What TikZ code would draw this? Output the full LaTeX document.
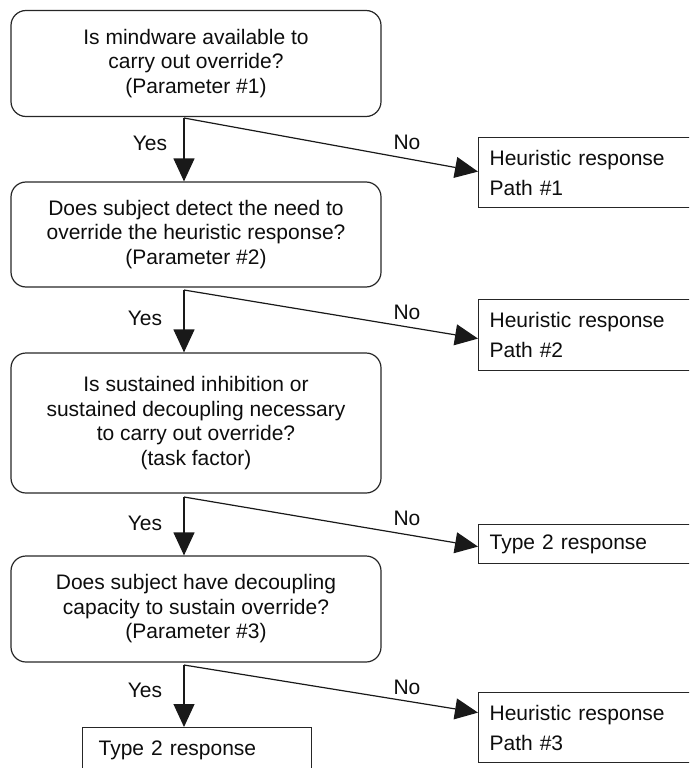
\documentclass[tikz,border=0pt]{standalone}
\usepackage{fontspec}
\setmainfont{Liberation Sans}
\usetikzlibrary{arrows.meta,calc}
\begin{document}
\begin{tikzpicture}[x=1pt,y=-1pt,
  every node/.style={text=black!95},
  qbox/.style={draw=black!85, line width=1.2pt, rounded corners=15pt, align=center,
    minimum width=370pt, inner sep=0pt,
    font=\fontsize{21pt}{24.5pt}\selectfont},
  rbox/.style={draw=black!85, line width=1.2pt, anchor=north west, align=left,
    inner xsep=11pt, inner ysep=0pt, text width=240pt,
    font=\fontsize{21pt}{30pt}\selectfont},
  lbl/.style={font=\fontsize{21pt}{24pt}\selectfont, inner sep=0pt},
  conn/.style={line width=1.2pt, draw=black!90, -{Triangle[length=23pt,width=21pt]}}
]
\useasboundingbox (0,0) rectangle (689,768);
\clip (0,0) rectangle (689,768);

% question boxes
\node[qbox, minimum height=106pt] (q1) at (196,63.5)
  {Is mindware available to\\carry out override?\\(Parameter \#1)};
\node[qbox, minimum height=105pt] (q2) at (196,234.5)
  {Does subject detect the need to\\override the heuristic response?\\(Parameter \#2)};
\node[qbox, minimum height=140pt] (q3) at (196,423)
  {Is sustained inhibition or\\sustained decoupling necessary\\to carry out override?\\(task factor)};
\node[qbox, minimum height=106pt] (q4) at (196,609)
  {Does subject have decoupling\\capacity to sustain override?\\(Parameter \#3)};

% response boxes
\node[rbox, minimum height=70pt] (r1) at (478,137) {Heuristic response\\Path \#1};
\node[rbox, minimum height=71pt] (r2) at (478,299) {Heuristic response\\Path \#2};
\node[rbox, minimum height=39pt] (r3) at (478,524) {Type 2 response};
\node[rbox, minimum height=70pt] (r4) at (478,692) {Heuristic response\\Path \#3};
\node[rbox, minimum height=46pt, text width=197pt, inner xsep=16pt] (r5) at (82,727) {Type 2 response};

% junctions
\coordinate (j1) at (184,118);
\coordinate (j2) at (184,290);
\coordinate (j3) at (184,497);
\coordinate (j4) at (184,665);

% yes arrows
\draw[conn] (j1) -- (j1 |- q2.north);
\draw[conn] (j2) -- (j2 |- q3.north);
\draw[conn] (j3) -- (j3 |- q4.north);
\draw[conn] (j4) -- (j4 |- r5.north);

% no arrows
\draw[conn] (j1) -- ([yshift=1pt]r1.west);
\draw[conn] (j2) -- ([yshift=-3.5pt]r2.west);
\draw[conn] (j3) -- ([yshift=-2.5pt]r3.west);
\draw[conn] (j4) -- ([yshift=15pt]r4.west);

% labels
\node[lbl] (y1) at (150,143) {Yes};
\node[lbl] (y2) at (145,318) {Yes};
\node[lbl] (y3) at (145,523) {Yes};
\node[lbl] (y4) at (145,690) {Yes};
\node[lbl] (n1) at (407,142) {No};
\node[lbl] (n2) at (407,312) {No};
\node[lbl] (n3) at (407,518) {No};
\node[lbl] (n4) at (407,687) {No};
\end{tikzpicture}
\end{document}
